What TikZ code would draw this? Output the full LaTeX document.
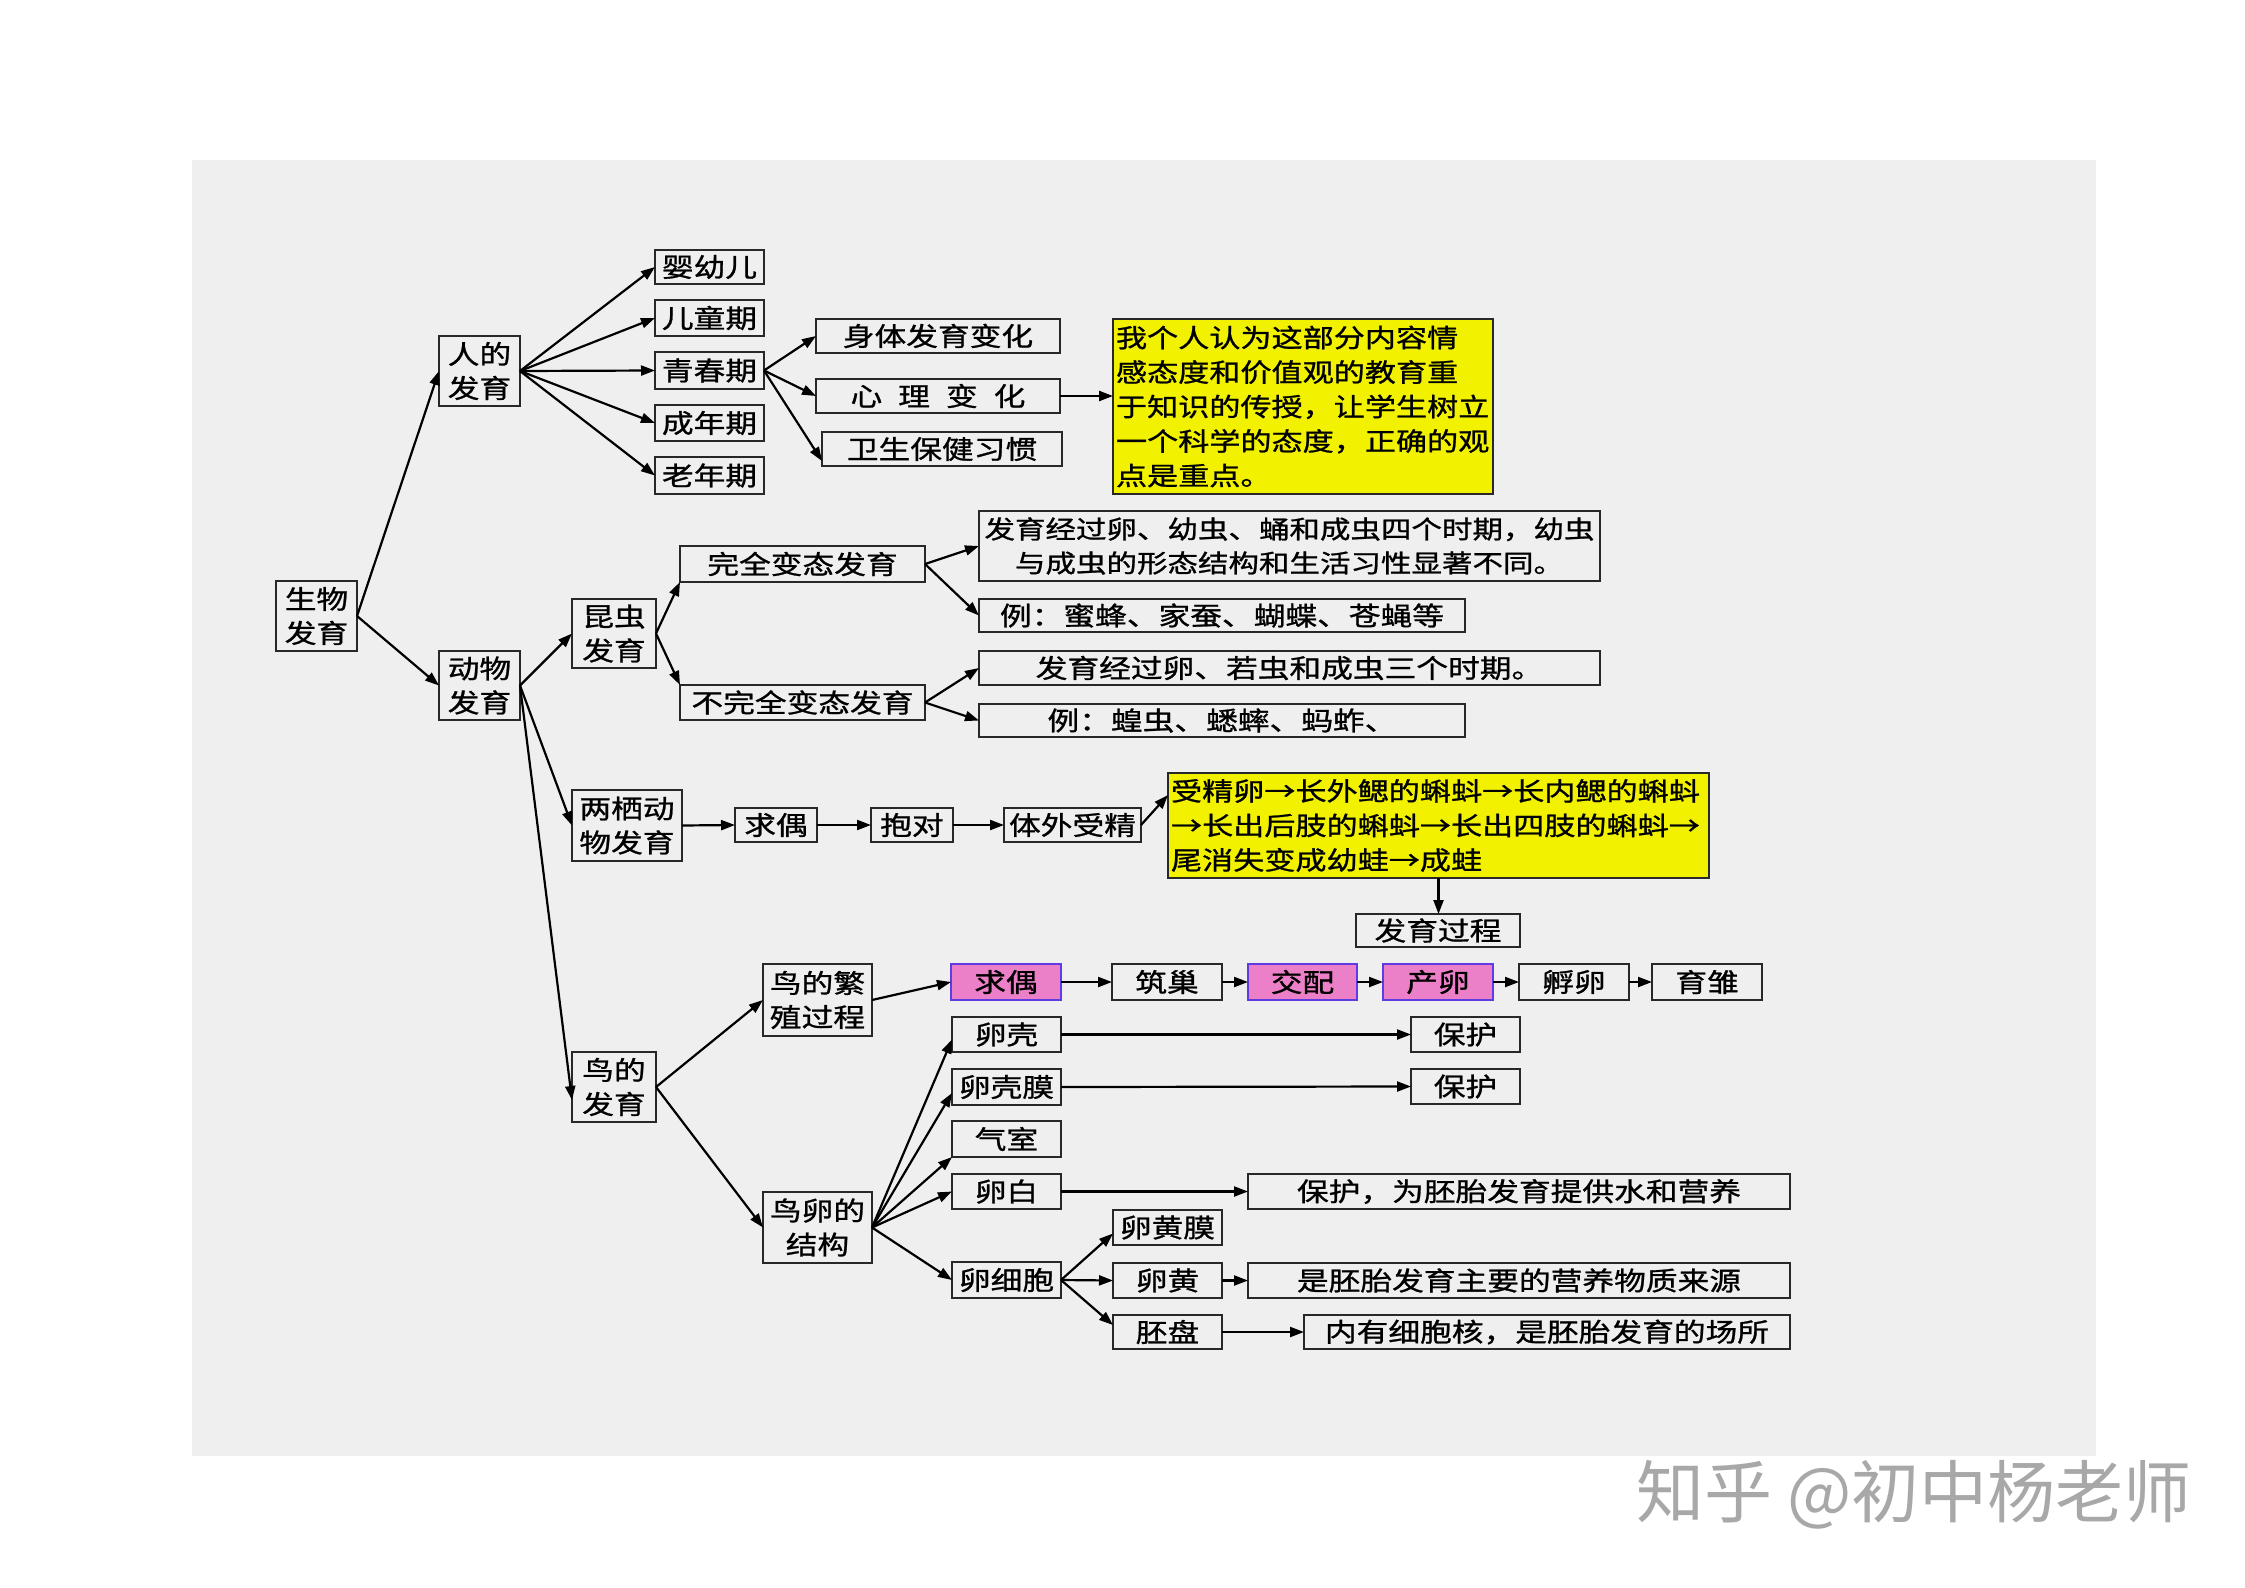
\documentclass[tikz,border=0pt]{standalone}
\usepackage{fontspec}
\setmainfont{Noto Sans CJK SC}[FakeStretch=1.22,FakeBold=1]
\newfontfamily\wmfont{Noto Sans CJK SC}
\usetikzlibrary{arrows.meta}
\definecolor{bgcol}{RGB}{239,239,239}
\definecolor{ylwcol}{RGB}{242,242,0}
\definecolor{pnkcol}{RGB}{236,128,200}
\definecolor{pbdcol}{RGB}{95,60,225}
\definecolor{wmcol}{RGB}{168,168,168}
\definecolor{bdcol}{RGB}{40,40,40}
\newcommand{\bx}[7][box]{%
  \pgfmathsetmacro\bxcx{(#3+#5)/2}%
  \pgfmathsetmacro\bxcy{(#4+#6)/2}%
  \pgfmathsetmacro\bxw{#5-#3}%
  \pgfmathsetmacro\bxh{#6-#4}%
  \node[#1,minimum width=\bxw pt,minimum height=\bxh pt] (#2) at (\bxcx,\bxcy) {#7};}
\begin{document}
\begin{tikzpicture}[x=1pt,y=-1pt,
  box/.style={draw=bdcol,line width=2.6pt,inner sep=0pt,outer sep=0pt,
    font=\fontsize{26}{34}\selectfont},
  ml/.style={box,align=center},
  yel/.style={box,fill=ylwcol,align=left,font=\fontsize{25.5}{34.5}\selectfont},
  pinkbox/.style={box,fill=pnkcol,draw=pbdcol},
  arr/.style={draw=black,line width=2.2pt,-{Triangle[length=14pt,width=10pt]}}]
\useasboundingbox (0,0) rectangle (2245,1587);
\fill[white] (0,0) rectangle (2245,1587);
\fill[bgcol] (192,160) rectangle (2096,1456);

% human
\bx[ml]{sw}{276}{581}{357}{651}{生物\\发育}
\bx[ml]{rd}{439}{336}{520}{406}{人的\\发育}
\bx{yy}{655}{250}{764}{284}{婴幼儿}
\bx{et}{655}{300}{764}{336}{儿童期}
\bx{qc}{655}{352}{764}{389}{青春期}
\bx{cn}{655}{405}{764}{441}{成年期}
\bx{lnq}{655}{457}{764}{494}{老年期}
\bx{st}{816}{319}{1060}{353}{身体发育变化}
\bx{xl}{816}{379}{1060}{413}{心\hspace{16pt}理\hspace{16pt}变\hspace{16pt}化}
\bx{ws}{822}{432}{1062}{466}{卫生保健习惯}
\bx[yel,text width=374pt]{ya}{1113}{319}{1493}{494}{我个人认为这部分内容情\\感态度和价值观的教育重\\于知识的传授，让学生树立\\一个科学的态度，正确的观\\点是重点。}

% insects
\bx[ml]{dw}{439}{651}{520}{720}{动物\\发育}
\bx[ml]{kc}{572}{599}{656}{668}{昆虫\\发育}
\bx{wq}{680}{546}{925}{582}{完全变态发育}
\bx{bw}{680}{685}{925}{720}{不完全变态发育}
\bx[ml,font=\fontsize{25}{34}\selectfont]{wa}{979}{511}{1600}{581}{发育经过卵、幼虫、蛹和成虫四个时期，幼虫\\与成虫的形态结构和生活习性显著不同。}
\bx{wb}{979}{599}{1465}{632}{例：蜜蜂、家蚕、蝴蝶、苍蝇等}
\bx{ba}{979}{651}{1600}{685}{发育经过卵、若虫和成虫三个时期。}
\bx{bb}{979}{704}{1465}{737}{例：蝗虫、蟋蟀、蚂蚱、}

% amphibians
\bx[ml]{lq}{572}{790}{682}{861}{两栖动\\物发育}
\bx{qo}{735}{808}{817}{842}{求偶}
\bx{bd}{871}{808}{953}{842}{抱对}
\bx{tw}{1004}{808}{1141}{842}{体外受精}
\bx[yel,text width=535pt]{fy}{1168}{773}{1709}{878}{受精卵→长外鳃的蝌蚪→长内鳃的蝌蚪\\→长出后肢的蝌蚪→长出四肢的蝌蚪→\\尾消失变成幼蛙→成蛙}
\bx{fg}{1356}{914}{1520}{947}{发育过程\hspace{34pt}}

% birds
\bx[ml]{nd}{572}{1052}{656}{1122}{鸟的\\发育}
\bx[ml]{fz}{763}{964}{872}{1036}{鸟的繁\\殖过程}
\bx[pinkbox]{pa}{951}{964}{1061}{1000}{求偶}
\bx{zc}{1112}{964}{1222}{1000}{筑巢}
\bx[pinkbox]{jp}{1248}{964}{1357}{1000}{交配}
\bx[pinkbox]{cl}{1383}{964}{1493}{1000}{产卵}
\bx{fl}{1519}{964}{1629}{1000}{孵卵}
\bx{yc}{1652}{964}{1762}{1000}{育雏}
\bx{lk}{952}{1017}{1061}{1052}{卵壳}
\bx{bha}{1411}{1017}{1520}{1052}{保护}
\bx{lkm}{952}{1069}{1061}{1105}{卵壳膜}
\bx{bhb}{1411}{1069}{1520}{1104}{保护}
\bx{qs}{952}{1121}{1061}{1157}{气室}
\bx{lb}{952}{1174}{1061}{1209}{卵白}
\bx{bhc}{1248}{1174}{1790}{1209}{保护，为胚胎发育提供水和营养}
\bx[ml]{nj}{763}{1192}{872}{1263}{鸟卵的\\结构}
\bx{lhm}{1113}{1210}{1222}{1245}{卵黄膜}
\bx{lxb}{952}{1262}{1061}{1298}{卵细胞}
\bx{lh}{1113}{1263}{1222}{1298}{卵黄}
\bx{sp}{1248}{1263}{1790}{1298}{是胚胎发育主要的营养物质来源}
\bx{pp}{1113}{1315}{1222}{1349}{胚盘}
\bx{nh}{1304}{1315}{1790}{1349}{内有细胞核，是胚胎发育的场所}

% connectors
\draw[arr] (sw.east) -- (rd.west);
\draw[arr] (sw.east) -- (dw.west);
\foreach \t in {yy,et,qc,cn,lnq} \draw[arr] (rd.east) -- (\t.west);
\draw[arr] (qc.east) -- (st.west);
\draw[arr] (qc.east) -- (xl.west);
\draw[arr] (qc.east) -- ([yshift=5pt]ws.south west);
\draw[arr] (xl.east) -- (xl.east -| ya.west);

\draw[arr] (dw.east) -- (kc.west);
\draw[arr] (dw.east) -- (lq.west);
\draw[arr] (dw.east) -- ([yshift=-13pt]nd.west);
\draw[arr] (kc.east) -- (wq.south west);
\draw[arr] (kc.east) -- (bw.north west);
\draw[arr] (wq.east) -- (wa.west);
\draw[arr] (wq.east) -- (wb.west);
\draw[arr] (bw.east) -- (ba.west);
\draw[arr] (bw.east) -- (bb.west);

\draw[arr] (lq.east) -- (qo.west);
\draw[arr] (qo.east) -- (bd.west);
\draw[arr] (bd.east) -- (tw.west);
\draw[arr] (tw.east) -- ([yshift=-22pt]fy.north west);
\draw[arr] (fy.south) -- (fy.south |- fg.north);

\draw[arr] (nd.east) -- (fz.west);
\draw[arr] (nd.east) -- (nj.west);
\draw[arr] (fz.east) -- (pa.west);
\draw[arr] (pa.east) -- (zc.west);
\draw[arr] (zc.east) -- (jp.west);
\draw[arr] (jp.east) -- (cl.west);
\draw[arr] (cl.east) -- (fl.west);
\draw[arr] (fl.east) -- (yc.west);
\draw[arr] (nj.east) -- ([yshift=-5pt]lk.west);
\draw[arr] (nj.east) -- ([yshift=-6pt]lkm.west);
\draw[arr] (nj.east) -- (qs.south west);
\draw[arr] (nj.east) -- (lb.west);
\draw[arr] (nj.east) -- (lxb.west);
\draw[arr] (lk.east) -- (bha.west);
\draw[arr] (lkm.east) -- (bhb.west);
\draw[arr] (lb.east) -- (bhc.west);
\draw[arr] (lxb.east) -- ([yshift=-6pt]lhm.west);
\draw[arr] (lxb.east) -- (lh.west);
\draw[arr] (lxb.east) -- ([yshift=7pt]pp.west);
\draw[arr] (lh.east) -- (sp.west);
\draw[arr] (pp.east) -- (nh.west);

% watermark
\node[text=wmcol,font=\wmfont\fontsize{68}{68}\selectfont,inner sep=0pt] (wm) at (1914,1495) {知乎 @初中杨老师};
\end{tikzpicture}
\end{document}
